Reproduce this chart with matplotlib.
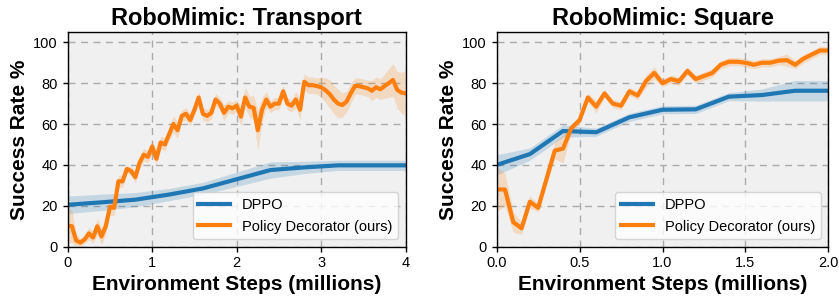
import numpy as np
import matplotlib
matplotlib.use("Agg")
import matplotlib.pyplot as plt

plt.rcParams['font.family'] = ['Liberation Sans', 'DejaVu Sans']

# ---- Transport ----
t_pd_x = [0.0, 0.05, 0.1, 0.15, 0.2, 0.25, 0.3, 0.35, 0.4, 0.45, 0.5, 0.55, 0.6, 0.65, 0.7, 0.75,
          0.8, 0.85, 0.9, 0.95, 1.0, 1.05, 1.1, 1.15, 1.2, 1.25, 1.3, 1.35, 1.4, 1.45, 1.5, 1.55,
          1.6, 1.65, 1.7, 1.75, 1.8, 1.85, 1.9, 1.95, 2.0, 2.05, 2.1, 2.15, 2.2, 2.25, 2.3, 2.35,
          2.4, 2.45, 2.5, 2.55, 2.6, 2.65, 2.7, 2.75, 2.8, 2.85, 2.9, 2.95, 3.0, 3.05, 3.1, 3.15,
          3.2, 3.25, 3.3, 3.35, 3.4, 3.45, 3.5, 3.55, 3.6, 3.65, 3.7, 3.75, 3.8, 3.85, 3.9, 3.95, 4.0]
t_pd_y = [10.3, 10, 3, 2, 3.5, 6.5, 4.5, 10, 5, 10, 19.5, 19, 32, 32, 38, 37,
          34, 41, 45, 44, 49, 43, 51, 50, 55, 60, 57, 64, 65, 62, 67, 73,
          65, 64, 65.5, 72, 70, 65.5, 68.5, 67.7, 69, 63.6, 73, 68.5, 68, 57, 67, 72,
          68.5, 70, 70, 76, 70, 69, 72, 67, 80.7, 79, 79, 78.6, 78, 76.6, 74.7, 72,
          70, 69.3, 71, 75, 78.6, 78.6, 78, 77.5, 76.3, 78, 77, 78.6, 80, 81.6, 76.7, 75.4, 75]
t_pd_s = [8, 8, 3, 2, 2, 3, 3, 4, 4, 4, 4, 4, 3, 3, 2, 2,
          3, 3, 3, 3, 3, 3, 3, 3, 3, 4, 4, 3, 3, 3, 3, 3,
          3, 3, 3, 3, 3, 4, 3, 3, 3, 5, 5, 5, 6, 10, 6, 4,
          3, 3, 3, 3, 3, 3, 4, 5, 4, 4, 4, 4, 5, 6, 7, 7,
          7, 6, 5, 5, 4, 4, 4, 4, 5, 5, 5, 6, 7, 8, 9, 10, 11]
t_dp_x = [0.0, 0.4, 0.8, 1.2, 1.6, 2.0, 2.4, 2.8, 3.2, 3.6, 4.0]
t_dp_y = [20.5, 21.7, 23, 25.5, 28.5, 33, 37.5, 38.8, 39.8, 39.8, 39.8]
t_dp_s = [4.3, 4, 3.5, 3, 3, 3.5, 4, 3, 2.5, 2.5, 2.5]

# ---- Square ----
s_pd_x = [0.0, 0.05, 0.1, 0.15, 0.2, 0.25, 0.3, 0.35, 0.4, 0.45, 0.5, 0.55, 0.6, 0.65, 0.7, 0.75,
          0.8, 0.85, 0.9, 0.95, 1.0, 1.05, 1.1, 1.15, 1.2, 1.25, 1.3, 1.35, 1.4, 1.45, 1.5, 1.55,
          1.6, 1.65, 1.7, 1.75, 1.8, 1.85, 1.9, 1.95, 2.0]
s_pd_y = [28, 28, 12, 9, 22, 19, 33, 47, 48, 58, 62, 73, 68.5, 75, 70, 69,
          76, 74, 81, 85, 80, 82, 81, 86, 82, 83.5, 85, 89, 90.5, 90.5, 90, 89,
          90, 90, 91, 91.3, 89, 92, 94, 96, 96]
s_pd_s = [11, 8, 5, 3, 3, 2, 3, 4, 7, 2, 2, 2, 3, 2, 2, 2,
          2, 2, 3, 3, 2, 2, 2, 2, 2, 2, 2, 2, 2, 2, 2, 2,
          2, 2, 2, 3, 2, 2, 2, 2, 2]
s_dp_x = [0.0, 0.2, 0.4, 0.6, 0.8, 1.0, 1.2, 1.4, 1.6, 1.8, 2.0]
s_dp_y = [40, 45.3, 56.6, 56, 63.3, 67, 67.2, 73.4, 74.2, 76.3, 76.3]
s_dp_s = [5, 3, 3, 2, 2, 2, 2, 2, 3, 5, 5]

titles = ['RoboMimic: Transport', 'RoboMimic: Square']
xticks_list = [[0, 1, 2, 3, 4], [0.0, 0.5, 1.0, 1.5, 2.0]]
xtick_labels = [['0', '1', '2', '3', '4'], ['0.0', '0.5', '1.0', '1.5', '2.0']]
yticks = [0, 20, 40, 60, 80, 100]

blue = '#1f77b4'
orange = '#ff7f0e'

fig = plt.figure(figsize=(8.39, 2.96), dpi=100)
ax1 = fig.add_axes([0.0807, 0.1666, 0.4028, 0.725])
ax2 = fig.add_axes([0.592, 0.1666, 0.3953, 0.725])

data = [
    (t_dp_x, t_dp_y, t_dp_s, t_pd_x, t_pd_y, t_pd_s, 4),
    (s_dp_x, s_dp_y, s_dp_s, s_pd_x, s_pd_y, s_pd_s, 2),
]

for i, (ax, d) in enumerate(zip([ax1, ax2], data)):
    dx, dy, ds, px, py, ps, xmax = d
    dx, dy, ds = np.array(dx), np.array(dy), np.array(ds)
    px, py, ps = np.array(px), np.array(py), np.array(ps)
    ax.set_facecolor('#f0f0f0')
    ax.fill_between(dx, dy - ds, dy + ds, color=blue, alpha=0.2, lw=0)
    ax.plot(dx, dy, color=blue, lw=3, label='DPPO')
    ax.fill_between(px, py - ps, py + ps, color=orange, alpha=0.2, lw=0)
    ax.plot(px, py, color=orange, lw=3, label='Policy Decorator (ours)')
    ax.set_xlim(0, xmax)
    ax.set_ylim(0, 105)
    ax.set_xticks(xticks_list[i])
    ax.set_xticklabels(xtick_labels[i])
    ax.set_yticks(yticks)
    ax.grid(True, color='#aaaaaa', linestyle=(0, (5, 4)), lw=1)
    ax.set_axisbelow(True)
    ax.tick_params(labelsize=10.5, length=3.5, width=1, pad=3.5)
    for sp in ax.spines.values():
        sp.set_linewidth(1)
        sp.set_color('black')
    ax.set_title(titles[i], fontsize=17, fontweight='bold', pad=5)
    ax.set_xlabel('Environment Steps (millions)', fontsize=15, fontweight='bold', labelpad=3)
    ax.set_ylabel('Success Rate %', fontsize=15, fontweight='bold', labelpad=3)
    ax.legend(loc='lower right', fontsize=10.5, framealpha=0.8, edgecolor='#cccccc',
              handlelength=2.2)

fig.savefig('out.png', dpi=100)
